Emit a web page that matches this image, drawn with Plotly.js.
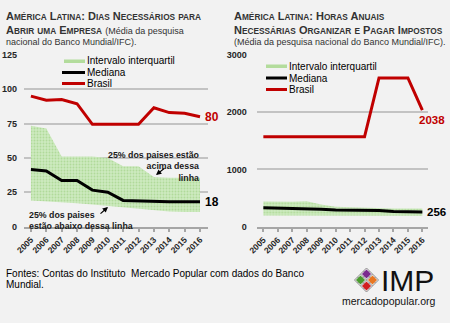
<!DOCTYPE html>
<html>
<head>
<meta charset="utf-8">
<script src="https://cdn.plot.ly/plotly-3.0.1.min.js"></script>
<style>html,body{margin:0;padding:0;background:#f2f2f2;}#chart{width:450px;height:323px;}</style>
</head>
<body>
<div id="chart"></div>
<script>
// ---------- data ----------
const years = [2005, 2006, 2007, 2008, 2009, 2010, 2011, 2012, 2013, 2014, 2015, 2016];
const yearLabels = ["2005","2006","2007","2008","2009","2010","2011","2012","2013","2014","2015","2016"];

// Dias necessários para abrir uma empresa
const diasBrasil  = [95, 92, 92.5, 89.5, 74.5, 74.5, 74.5, 74.5, 86.5, 83, 82.5, 80];
const diasMediana = [41.5, 40.5, 33.5, 33.5, 26.5, 25, 19, 18.5, 18, 18, 18, 18];
const diasQ3      = [73.5, 71.5, 51, 51, 51, 50, 44, 44, 36, 35.5, 35.5, 35.5];
const diasQ1      = [19, 18.5, 17.5, 17, 16, 15, 13.5, 13, 12, 11, 10.5, 10.5];
const diasTicks   = [0, 25, 50, 75, 100, 125];

// Horas anuais para pagar impostos
const horasBrasil  = [1570, 1570, 1570, 1570, 1570, 1570, 1570, 1570, 2600, 2600, 2600, 2038];
const horasMediana = [330, 325, 320, 318, 305, 290, 285, 285, 285, 265, 258, 256];
const horasQ3      = [440, 435, 435, 445, 390, 350, 340, 335, 330, 320, 320, 320];
const horasQ1      = [195, 195, 195, 195, 195, 192, 192, 192, 190, 190, 190, 190];
const horasTicks   = [0, 1000, 2000, 3000];

const legendLabels = ["Intervalo interquartil", "Mediana", "Brasil"];

// ---------- styling helpers ----------
const W = 450, H = 323;
const px = v => v / W;
const py = v => 1 - v / H;
const FONT = "Liberation Sans, Arial, sans-serif";
const RED = "#c00000";
const GREEN_BG = "#cdeabf";
const GREEN_FG = "#b0da9a";

function band(xs, lo, hi, xa, ya) {
  return [
    {x: xs, y: lo, xaxis: xa, yaxis: ya, mode: "lines", line: {width: 0, color: GREEN_BG},
     showlegend: false, hoverinfo: "skip"},
    {x: xs, y: hi, xaxis: xa, yaxis: ya, mode: "lines", line: {width: 0, color: GREEN_BG},
     fill: "tonexty", fillcolor: GREEN_BG,
     fillpattern: {shape: ".", bgcolor: GREEN_BG, fgcolor: GREEN_FG, size: 3, solidity: 0.3},
     name: legendLabels[0], showlegend: false}
  ];
}
function line(xs, ys, color, w, xa, ya, name) {
  return {x: xs, y: ys, xaxis: xa, yaxis: ya, mode: "lines",
          line: {color: color, width: w}, name: name, showlegend: false};
}

const data = [
  ...band(years, diasQ1, diasQ3, "x", "y"),
  line(years, diasMediana, "#000000", 3, "x", "y", legendLabels[1]),
  line(years, diasBrasil, RED, 3, "x", "y", legendLabels[2]),
  ...band(years, horasQ1, horasQ3, "x2", "y2"),
  line(years, horasMediana, "#000000", 3, "x2", "y2", legendLabels[1]),
  line(years, horasBrasil, RED, 3, "x2", "y2", legendLabels[2])
];

function xAxis(domain, range) {
  return {domain: domain, range: range, type: "linear",
    tickvals: years, ticktext: yearLabels, tickangle: -45,
    tickfont: {family: FONT, size: 8.5, color: "#262626", weight: "bold"},
    showgrid: false, zeroline: false, showline: true, linecolor: "#a6a6a6", linewidth: 2,
    ticks: "outside", ticklen: 3, tickwidth: 2, tickcolor: "#a6a6a6", fixedrange: true};
}
function yAxis(domain, range, ticks, anchor, standoff) {
  return {domain: domain, range: range, tickvals: ticks, anchor: anchor,
    tickfont: {family: FONT, size: 9, color: "#262626", weight: "bold"},
    showgrid: true, gridcolor: "#c3c3c3", gridwidth: 2, zeroline: false, showline: false,
    ticks: "", ticklabelstandoff: standoff, fixedrange: true};
}

// small-caps helper
function sc(text, big, small) {
  return text.split(" ").map(w => {
    if (w === w.toLowerCase() && w.length) {
      return `<span style="font-size:${small}px">${w.toUpperCase()}</span>`;
    }
    let out = "";
    let i = 0;
    while (i < w.length) {
      const ch = w[i];
      if (ch === ch.toUpperCase() && ch !== ch.toLowerCase()) { out += ch; i++; }
      else if (ch === ch.toLowerCase() && ch !== ch.toUpperCase()) {
        let j = i; let seg = "";
        while (j < w.length && w[j] === w[j].toLowerCase() && w[j] !== w[j].toUpperCase()) { seg += w[j]; j++; }
        out += `<span style="font-size:${small}px">${seg.toUpperCase()}</span>`;
        i = j;
      } else { out += ch; i++; }
    }
    return out;
  }).join(" ");
}

const BIG = 11, SMALL = 8.3;
function ann(x, y, text, opts) {
  return Object.assign({xref: "paper", yref: "paper", x: px(x), y: py(y), text: text,
    showarrow: false, xanchor: "left", yanchor: "middle",
    font: {family: FONT, size: 10, color: "#000"}}, opts || {});
}
const titleFont = {family: FONT, size: BIG, color: "#333333", weight: "bold"};
const subFont = {family: FONT, size: 9, color: "#333333"};
const noteFont = {family: FONT, size: 8.8, color: "#1a1a1a", weight: "bold"};

const annotations = [
  // left title
  ann(4, 16, sc("América Latina: Dias Necessários para", BIG, SMALL), {font: titleFont}),
  ann(4, 30, "<b>" + sc("Abrir uma Empresa", BIG, SMALL) + "</b>" +
     ' <span style="font-size:9px;font-weight:normal">(Média da pesquisa</span>', {font: titleFont}),
  ann(4, 42, "nacional do Banco Mundial/IFC).", {font: subFont}),
  // right title
  ann(232, 16, sc("América Latina: Horas Anuais", BIG, SMALL), {font: titleFont}),
  ann(232, 30, sc("Necessárias Organizar e Pagar Impostos", BIG, SMALL), {font: titleFont}),
  ann(232, 42, "(Média da pesquisa nacional do Banco Mundial/IFC).", {font: subFont}),
  // legend texts left
  ann(85, 61, legendLabels[0]), ann(85, 72.5, legendLabels[1]), ann(85, 83.5, legendLabels[2]),
  // legend texts right
  ann(287, 66, legendLabels[0]), ann(287, 78, legendLabels[1]), ann(287, 89.5, legendLabels[2]),
  // end labels
  {xref: "x", yref: "y", x: years[11], y: diasBrasil[11], text: "80", showarrow: false,
   xanchor: "left", yanchor: "middle", xshift: 3, font: {family: FONT, size: 12, color: RED, weight: "bold"}},
  {xref: "x", yref: "y", x: years[11], y: diasMediana[11], text: "18", showarrow: false,
   xanchor: "left", yanchor: "middle", xshift: 3, font: {family: FONT, size: 12, color: "#000", weight: "bold"}},
  {xref: "x2", yref: "y2", x: years[11], y: horasBrasil[11], text: "2038", showarrow: false,
   xanchor: "left", yanchor: "middle", xshift: -5, yshift: -10, font: {family: FONT, size: 11.5, color: RED, weight: "bold"}},
  {xref: "x2", yref: "y2", x: years[11], y: horasMediana[11], text: "256", showarrow: false,
   xanchor: "left", yanchor: "middle", xshift: 3, font: {family: FONT, size: 11.5, color: "#000", weight: "bold"}},
  // quartile notes
  ann(202, 148, "25% dos paises estão<br>acima dessa<br>linha",
      {xanchor: "right", yanchor: "top", align: "right", font: noteFont}),
  ann(27, 208, "25% dos paises<br>estão abaixo dessa linha",
      {xanchor: "left", yanchor: "top", align: "left", font: noteFont}),
  {xref: "paper", yref: "paper", x: px(156), y: py(175), text: "", showarrow: true,
   ax: 10, ay: -8, arrowhead: 2, arrowsize: 0.9, arrowwidth: 1.2, arrowcolor: "#000"},
  {xref: "paper", yref: "paper", x: px(108), y: py(207), text: "", showarrow: true,
   ax: -9, ay: 8, arrowhead: 2, arrowsize: 0.9, arrowwidth: 1.2, arrowcolor: "#000"},
  // footer
  ann(4, 273.5, "Fontes: Contas do Instituto&nbsp; Mercado Popular com dados do Banco"),
  ann(4, 284, "Mundial."),
  // logo text
  ann(379, 280.5, "IMP", {font: {family: FONT, size: 30, color: "#111"}}),
  ann(388.5, 300.5, "mercadopopular.org", {xanchor: "center", font: {family: FONT, size: 10.5, color: "#111"}})
];

// shapes: legend swatches and logo
function pline(x0, y0, x1, y1, color, w) {
  return {type: "line", xref: "paper", yref: "paper", x0: px(x0), y0: py(y0), x1: px(x1), y1: py(y1),
          line: {color: color, width: w}};
}
function prect(x0, y0, x1, y1, color) {
  return {type: "rect", xref: "paper", yref: "paper", x0: px(x0), y0: py(y0), x1: px(x1), y1: py(y1),
          fillcolor: color, line: {width: 0}};
}
function diamond(cx, cy, r, color) {
  const pts = [[cx, cy - r], [cx + r, cy], [cx, cy + r], [cx - r, cy]];
  const path = "M " + pts.map(p => px(p[0]) + "," + py(p[1])).join(" L ") + " Z";
  return {type: "path", xref: "paper", yref: "paper", path: path,
          fillcolor: color, line: {width: 0}};
}
const shapes = [
  prect(64, 59.5, 85, 63, "#b3dc9c"),
  pline(62, 72.5, 85, 72.5, "#000", 3),
  pline(62, 83.5, 85, 83.5, RED, 3),
  prect(266, 64.5, 287, 68, "#b3dc9c"),
  pline(266, 78, 287, 78, "#000", 3),
  pline(266, 89.5, 287, 89.5, RED, 3)
];
// logo lattice
const LC = 366.5, LY = 280, R = 12;
for (let c = -R; c <= R; c += 6) {
  // lines with dx - dy = c
  shapes.push(pline(LC + (c + R) / 2, LY + (R - c) / 2, LC + (c - R) / 2, LY + (-R - c) / 2, "#8c8c8c", 1));
  // lines with dx + dy = c
  shapes.push(pline(LC + (c + R) / 2, LY + (c - R) / 2, LC + (c - R) / 2, LY + (c + R) / 2, "#8c8c8c", 1));
}
shapes.push(diamond(LC, LY - 6, 4.6, "#7b2c8e"));
shapes.push(diamond(LC - 6, LY, 4.6, "#4a9a2e"));
shapes.push(diamond(LC + 6, LY, 4.6, "#e87722"));
shapes.push(diamond(LC, LY + 6, 4.6, "#d11f1f"));

const layout = {
  width: W, height: H, margin: {l: 0, r: 0, t: 0, b: 0},
  paper_bgcolor: "#f2f2f2", plot_bgcolor: "rgba(0,0,0,0)",
  showlegend: false,
  xaxis: xAxis([px(24), px(208)], [2004.55, 2016.52]),
  yaxis: yAxis([py(226.5), py(55)], [0, 125], diasTicks, "x", 6),
  xaxis2: Object.assign(xAxis([px(256.7), px(427.7)], [2004.54, 2016.37]), {anchor: "y2"}),
  yaxis2: yAxis([py(226.7), py(55)], [0, 3000], horasTicks, "x2", 9),
  annotations: annotations,
  shapes: shapes
};

Plotly.newPlot("chart", data, layout, {displayModeBar: false, staticPlot: true});
</script>
</body>
</html>
